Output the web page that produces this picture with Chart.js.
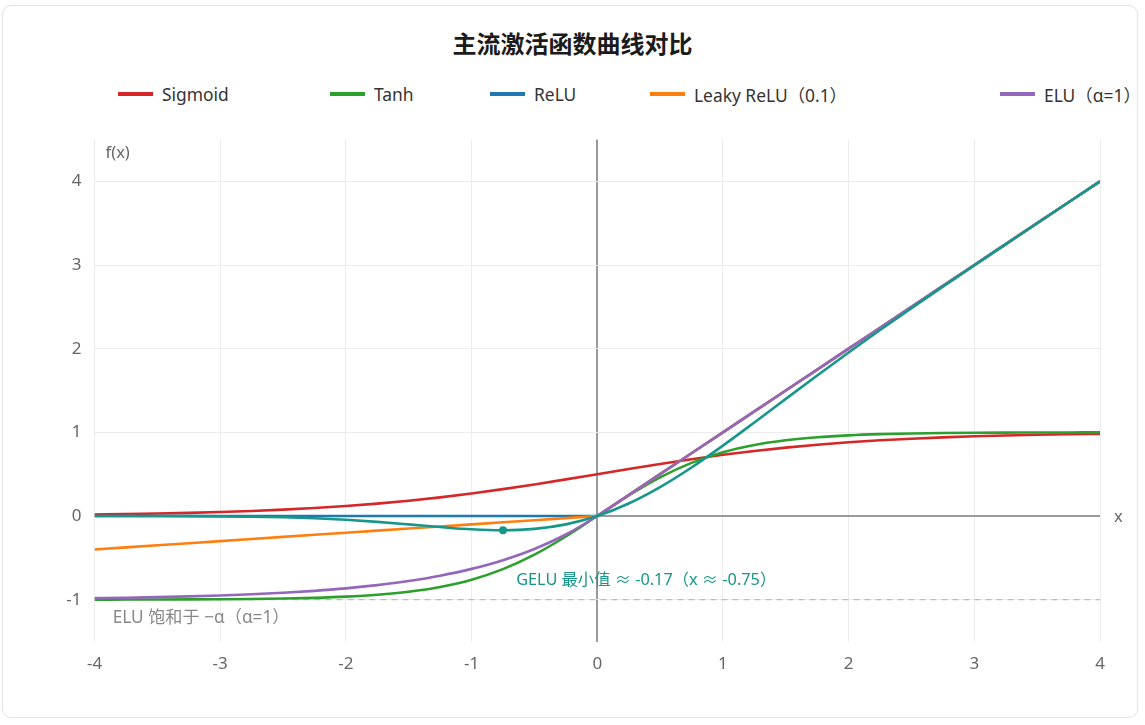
<!DOCTYPE html>
<html>
<head>
<meta charset="utf-8">
<script src="https://cdn.jsdelivr.net/npm/chart.js@4.4.1/dist/chart.umd.min.js"></script>
<style>
  html,body{margin:0;padding:0;background:#fff;}
  body{width:1145px;height:725px;position:relative;overflow:hidden;font-family:'Noto Sans','Noto Sans CJK SC',sans-serif;}
  #card{position:absolute;left:2px;top:5px;width:1136px;height:713px;border:1px solid #e3e3e3;border-radius:9px;box-sizing:border-box;}
  #title{position:absolute;left:0;width:1145px;top:26px;text-align:center;font:bold 24px 'Noto Sans CJK SC','Noto Sans',sans-serif;color:#1b1b1b;line-height:34px;}
  .lg{position:absolute;top:83px;height:22px;display:flex;align-items:center;font-size:17.4px;color:#333;white-space:nowrap;}
  .lg i{display:inline-block;width:35px;height:4px;margin-right:9px;}
  canvas{position:absolute;left:0;top:0;}
</style>
</head>
<body>
<div id="card"></div>
<div id="title">主流激活函数曲线对比</div>
<div id="legend"></div>
<canvas id="c" width="1145" height="725"></canvas>
<script>
// ---- data ----
const xValues = [-4,-3.75,-3.5,-3.25,-3,-2.75,-2.5,-2.25,-2,-1.75,-1.5,-1.25,-1,-0.75,-0.5,-0.25,0,0.25,0.5,0.75,1,1.25,1.5,1.75,2,2.25,2.5,2.75,3,3.25,3.5,3.75,4];
const sigmoidValues = [0.0180,0.0230,0.0293,0.0373,0.0474,0.0601,0.0759,0.0953,0.1192,0.1480,0.1824,0.2227,0.2689,0.3208,0.3775,0.4378,0.5,0.5622,0.6225,0.6792,0.7311,0.7773,0.8176,0.8520,0.8808,0.9047,0.9241,0.9399,0.9526,0.9627,0.9707,0.9770,0.9820];
const tanhValues = [-0.9993,-0.9989,-0.9982,-0.9970,-0.9951,-0.9919,-0.9866,-0.9780,-0.9640,-0.9414,-0.9051,-0.8483,-0.7616,-0.6351,-0.4621,-0.2449,0,0.2449,0.4621,0.6351,0.7616,0.8483,0.9051,0.9414,0.9640,0.9780,0.9866,0.9919,0.9951,0.9970,0.9982,0.9989,0.9993];
const reluValues = [0,0,0,0,0,0,0,0,0,0,0,0,0,0,0,0,0,0.25,0.5,0.75,1,1.25,1.5,1.75,2,2.25,2.5,2.75,3,3.25,3.5,3.75,4];
const leakyValues = [-0.4,-0.375,-0.35,-0.325,-0.3,-0.275,-0.25,-0.225,-0.2,-0.175,-0.15,-0.125,-0.1,-0.075,-0.05,-0.025,0,0.25,0.5,0.75,1,1.25,1.5,1.75,2,2.25,2.5,2.75,3,3.25,3.5,3.75,4];
const eluValues = [-0.9817,-0.9765,-0.9698,-0.9612,-0.9502,-0.9361,-0.9179,-0.8946,-0.8647,-0.8262,-0.7769,-0.7135,-0.6321,-0.5276,-0.3935,-0.2212,0,0.25,0.5,0.75,1,1.25,1.5,1.75,2,2.25,2.5,2.75,3,3.25,3.5,3.75,4];
const geluValues = [-0.0001,-0.0003,-0.0008,-0.0019,-0.0040,-0.0082,-0.0155,-0.0275,-0.0455,-0.0701,-0.1002,-0.1321,-0.1587,-0.1700,-0.1543,-0.1003,0,0.1497,0.3457,0.5800,0.8413,1.1179,1.3998,1.6799,1.9545,2.2225,2.4845,2.7418,2.9960,3.2481,3.4992,3.7497,3.9999];
const saturationX = [-4, 4];
const saturationY = [-1, -1];
const geluMinX = [-0.75];
const geluMinY = [-0.17];
const xTicks = [-4,-3,-2,-1,0,1,2,3,4];
const yTicks = [-1,0,1,2,3,4];
const seriesNames = ['Sigmoid','Tanh','ReLU','Leaky ReLU（0.1）','ELU（α=1）','GELU'];
const seriesColors = ['#d62728','#2ca02c','#1f77b4','#ff7f0e','#9467bd','#17968a'];
const annotations = [
  {text:'GELU 最小值 ≈ -0.17（x ≈ -0.75）', x:-0.645, y:-0.765, color:'#17968a', size:16.3},
  {text:'ELU 饱和于 −α（α=1）', x:-3.855, y:-1.22, color:'#888888', size:17.2}
];

// ---- legend (HTML) ----
const legendLeft = [118, 330, 490, 650, 1000];
const legendEl = document.getElementById('legend');
for (let i = 0; i < 5; i++) {
  const d = document.createElement('div');
  d.className = 'lg';
  d.style.left = legendLeft[i] + 'px';
  d.innerHTML = '<i style="background:' + seriesColors[i] + '"></i><span></span>';
  d.querySelector('span').textContent = seriesNames[i];
  legendEl.appendChild(d);
}

const zip = (xs, ys) => xs.map((x, i) => ({x: x, y: ys[i]}));
const seriesData = [sigmoidValues, tanhValues, reluValues, leakyValues, eluValues, geluValues];
const datasets = seriesData.map((vals, i) => ({
  label: seriesNames[i],
  data: zip(xValues, vals),
  borderColor: seriesColors[i],
  backgroundColor: seriesColors[i],
  borderWidth: 2.6,
  pointRadius: 0,
  fill: false,
  order: 6 - i,
  tension: (i === 2 || i === 3) ? 0 : 0.4,
  cubicInterpolationMode: (i === 2 || i === 3) ? 'default' : 'monotone'
}));
datasets.push({
  label: 'saturation',
  data: zip(saturationX, saturationY),
  borderColor: '#bdbdbd',
  borderWidth: 1.3,
  borderDash: [6, 5],
  pointRadius: 0,
  fill: false,
  order: 20
});
datasets.push({
  label: 'gelu-min',
  data: zip(geluMinX, geluMinY),
  borderColor: '#17968a',
  backgroundColor: '#17968a',
  pointRadius: 4,
  pointBorderWidth: 0,
  showLine: false,
  order: 0
});

const textPlugin = {
  id: 'texts',
  afterDatasetsDraw(chart) {
    const {ctx, chartArea, scales} = chart;
    const xs = scales.x, ys = scales.y;
    ctx.save();
    ctx.textBaseline = 'middle';
    ctx.font = "16.5px 'Noto Sans','Noto Sans CJK SC',sans-serif";
    ctx.fillStyle = '#666';
    ctx.textAlign = 'left';
    ctx.fillText('f(x)', chartArea.left + 11, chartArea.top + 14);
    ctx.fillText('x', xs.getPixelForValue(4) + 14, ys.getPixelForValue(0) + 1);
    annotations.forEach(a => {
      ctx.font = a.size + "px 'Noto Sans','Noto Sans CJK SC',sans-serif";
      ctx.fillStyle = a.color;
      ctx.fillText(a.text, xs.getPixelForValue(a.x), ys.getPixelForValue(a.y));
    });
    ctx.restore();
  }
};

Chart.defaults.font.family = "'Noto Sans','Noto Sans CJK SC',sans-serif";
new Chart(document.getElementById('c'), {
  type: 'line',
  data: {datasets: datasets},
  plugins: [textPlugin],
  options: {
    responsive: false,
    animation: false,
    events: [],
    layout: {padding: {top: 139.5, left: 0, right: 45, bottom: 43.5}},
    plugins: {legend: {display: false}, title: {display: false}, tooltip: {enabled: false}},
    scales: {
      x: {
        type: 'linear', min: -4, max: 4,
        afterFit(s) { s.height = 40; },
        afterBuildTicks(s) { s.ticks = xTicks.map(v => ({value: v})); },
        border: {display: false},
        grid: {
          drawTicks: false,
          color: c => c.tick && c.tick.value === 0 ? '#9a9a9a' : '#ececec',
          lineWidth: c => c.tick && c.tick.value === 0 ? 2 : 1
        },
        ticks: {color: '#666', font: {size: 17}, padding: 12}
      },
      y: {
        type: 'linear', min: -1.5, max: 4.5,
        afterFit(s) { s.width = 94.5; },
        afterBuildTicks(s) { s.ticks = yTicks.map(v => ({value: v})); },
        border: {display: false},
        grid: {
          drawTicks: false,
          color: c => c.tick && c.tick.value === 0 ? '#9a9a9a' : '#ececec',
          lineWidth: c => c.tick && c.tick.value === 0 ? 2 : 1
        },
        ticks: {color: '#666', font: {size: 17}, padding: 13}
      }
    }
  }
});
</script>
</body>
</html>
